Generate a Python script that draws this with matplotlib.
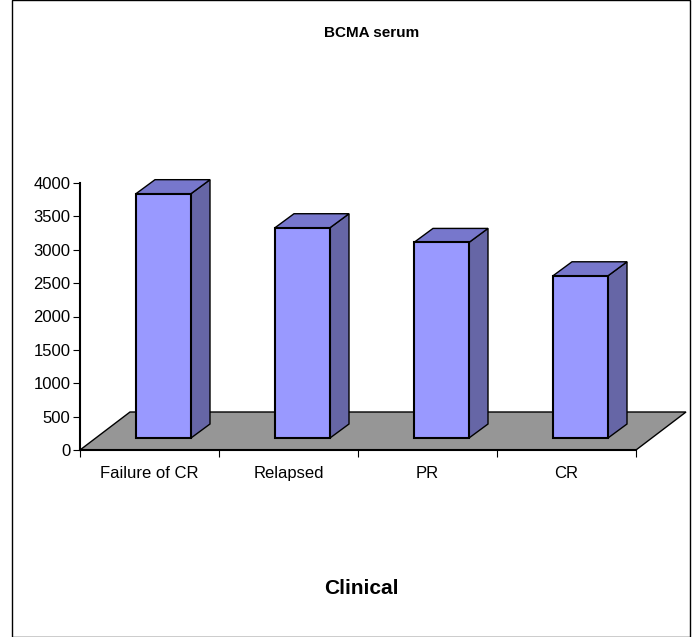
import matplotlib.pyplot as plt
from matplotlib.patches import Polygon, Rectangle

categories = ['Failure of CR', 'Relapsed', 'PR', 'CR']
values = [3840, 3330, 3110, 2610]

W, H = 700, 637
fig = plt.figure(figsize=(W / 100, H / 100), dpi=100)
fig.patches.append(Rectangle((12 / W, 0), 678 / W, 1, transform=fig.transFigure,
                             fill=False, edgecolor='black', linewidth=1))

# axes: x in category units (139 px each), y in value units
x0, x1 = 80, 690
y0, y1 = 450, 183
ax = fig.add_axes([x0 / W, 1 - y0 / H, (x1 - x0) / W, (y0 - y1) / H])
px = 139.0
ax.set_xlim(0, (x1 - x0) / px)
ax.set_ylim(0, 4000)
ax.patch.set_visible(False)
vu = 4000 / (y0 - y1)  # value units per pixel

# floor
fdx, fdy = 50 / px, 38 * vu
ax.add_patch(Polygon([(0, 0), (4, 0), (4 + fdx, fdy), (fdx, fdy)], closed=True,
                     facecolor='#969696', edgecolor='black', linewidth=1, clip_on=False))

front, side, top = '#9999FF', '#6666A6', '#7777CC'
bdx, bdy = 19 / px, 14 * vu
base = 12 * vu
for i, v in enumerate(values):
    l = i + 56 / px
    r = l + 55 / px
    ax.add_patch(Polygon([(r, base), (r + bdx, base + bdy), (r + bdx, v + bdy), (r, v)],
                         facecolor=side, edgecolor='black', linewidth=1, clip_on=False))
    ax.add_patch(Polygon([(l, v), (r, v), (r + bdx, v + bdy), (l + bdx, v + bdy)],
                         facecolor=top, edgecolor='black', linewidth=1, clip_on=False))
    ax.add_patch(Rectangle((l, base), r - l, v - base,
                           facecolor=front, edgecolor='black', linewidth=1.5, clip_on=False))

for s in ['top', 'right', 'bottom']:
    ax.spines[s].set_visible(False)
ax.spines['left'].set_linewidth(1.5)
ax.plot([0, 4], [0, 0], color='black', linewidth=1.5, clip_on=False)
ax.set_yticks(range(0, 4001, 500))
ax.tick_params(axis='y', direction='out', length=5, labelsize=12, pad=2)
ax.set_xticks([0, 1, 2, 3, 4])
ax.set_xticklabels([])
ax.tick_params(axis='x', direction='out', length=5)
for i, c in enumerate(categories):
    ax.text(i + 0.5, -240, c, ha='center', va='top', fontsize=12,
            family='Liberation Sans')
for t in ax.get_yticklabels():
    t.set_family('Liberation Sans')

fig.text(372 / W, 1 - 33 / H, 'BCMA serum', ha='center', va='center',
         fontsize=11, fontweight='bold', family='Liberation Sans')
fig.text(361 / W, 1 - 589 / H, 'Clinical', ha='center', va='center',
         fontsize=15, fontweight='bold', family='Liberation Sans')

fig.savefig('out.png', dpi=100)
